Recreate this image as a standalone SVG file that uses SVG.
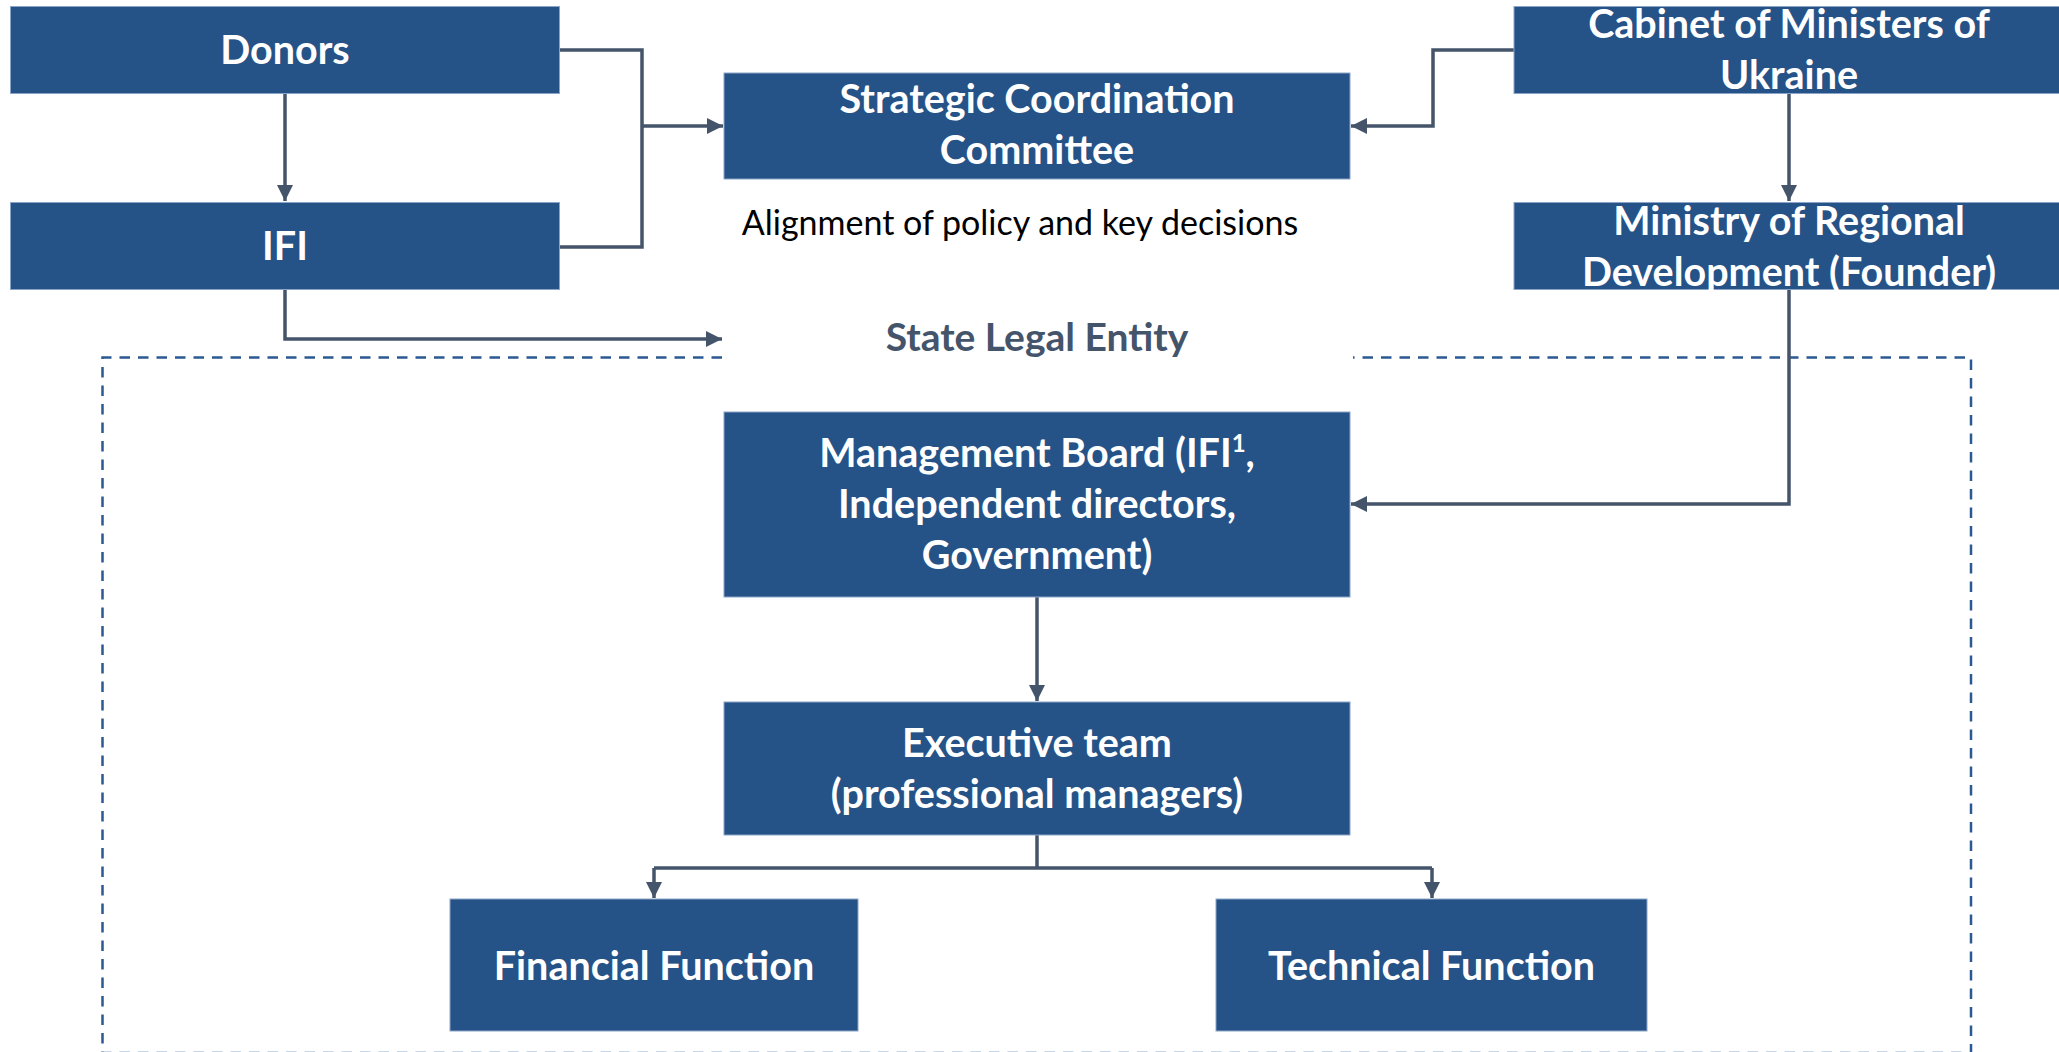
<svg xmlns="http://www.w3.org/2000/svg" width="2059" height="1052" viewBox="0 0 2059 1052">
  <style>
    .box { fill: #265387; stroke: #8aa5c8; stroke-width: 1; }
    .t { font-family: Lato, "Open Sans", "Liberation Sans", sans-serif; font-weight: bold; font-size: 39.5px; fill: #ffffff; text-anchor: middle; }
    .conn { fill: none; stroke: #44546a; stroke-width: 3.5; }
    .note { font-family: Lato, "Open Sans", "Liberation Sans", sans-serif; font-size: 34px; fill: #000000; text-anchor: middle; }
    .title { font-family: Lato, "Open Sans", "Liberation Sans", sans-serif; font-weight: bold; font-size: 39px; fill: #44546a; text-anchor: middle; }
    .frame { fill: none; stroke: #2b5a92; stroke-width: 2.5; stroke-dasharray: 10.5 8; }
  </style>
  <defs>
    <marker id="arrow" markerUnits="userSpaceOnUse" markerWidth="16" markerHeight="16" refX="16" refY="8" orient="auto">
      <path d="M0,0 L16,8 L0,16 z" fill="#44546a"/>
    </marker>
  </defs>
  <rect width="2059" height="1052" fill="#ffffff"/>

  <!-- State Legal Entity frame -->
  <g id="frame">
    <path class="frame" d="M722,357.5 H102.5 V1053 H1971 V357.5 H1353"/>
    <text class="title" x="1037" y="351">State Legal Entity</text>
  </g>

  <g id="connectors">
    <path class="conn" d="M285,94 V201" marker-end="url(#arrow)"/>
    <path class="conn" d="M560,50 H642 V247 H560"/>
    <path class="conn" d="M642,126 H723" marker-end="url(#arrow)"/>
    <path class="conn" d="M285,290 V339 H722" marker-end="url(#arrow)"/>
    <path class="conn" d="M1514,50 H1433 V126 H1351" marker-end="url(#arrow)"/>
    <path class="conn" d="M1789,94 V201" marker-end="url(#arrow)"/>
    <path class="conn" d="M1789,290 V504 H1351" marker-end="url(#arrow)"/>
    <path class="conn" d="M1037,597 V701" marker-end="url(#arrow)"/>
    <path class="conn" d="M1037,835 V868"/>
    <path class="conn" d="M654,868 H1432"/>
    <path class="conn" d="M654,868 V898" marker-end="url(#arrow)"/>
    <path class="conn" d="M1432,868 V898" marker-end="url(#arrow)"/>
  </g>

  <g id="donors">
    <rect class="box" x="10.5" y="6.5" width="549" height="87"/>
    <text class="t" x="285" y="64">Donors</text>
  </g>
  <g id="ifi">
    <rect class="box" x="10.5" y="202.5" width="549" height="87"/>
    <text class="t" x="285" y="260">IFI</text>
  </g>
  <g id="strategic-committee">
    <rect class="box" x="724" y="73" width="626" height="106"/>
    <text class="t" x="1037" y="113">Strategic Coordination</text>
    <text class="t" x="1037" y="164">Committee</text>
  </g>
  <g id="alignment-note">
    <text class="note" x="1020" y="235">Alignment of policy and key decisions</text>
  </g>
  <g id="cabinet">
    <rect class="box" x="1514" y="6.5" width="550" height="87"/>
    <text class="t" x="1789" y="38">Cabinet of Ministers of</text>
    <text class="t" x="1789" y="89">Ukraine</text>
  </g>
  <g id="ministry">
    <rect class="box" x="1514" y="202.5" width="550" height="87"/>
    <text class="t" x="1789" y="235">Ministry of Regional</text>
    <text class="t" x="1789" y="286">Development (Founder)</text>
  </g>
  <g id="management-board">
    <rect class="box" x="724" y="412" width="626" height="185"/>
    <text class="t" x="1037" y="467">Management Board (IFI<tspan font-size="24" dy="-15">1</tspan><tspan dy="15">,</tspan></text>
    <text class="t" x="1037" y="518">Independent directors,</text>
    <text class="t" x="1037" y="569">Government)</text>
  </g>
  <g id="executive-team">
    <rect class="box" x="724" y="702" width="626" height="133"/>
    <text class="t" x="1037" y="757">Executive team</text>
    <text class="t" x="1037" y="808">(professional managers)</text>
  </g>
  <g id="financial-function">
    <rect class="box" x="450" y="899" width="408" height="132"/>
    <text class="t" x="654" y="980">Financial Function</text>
  </g>
  <g id="technical-function">
    <rect class="box" x="1216" y="899" width="431" height="132"/>
    <text class="t" x="1431.5" y="980">Technical Function</text>
  </g>
</svg>
